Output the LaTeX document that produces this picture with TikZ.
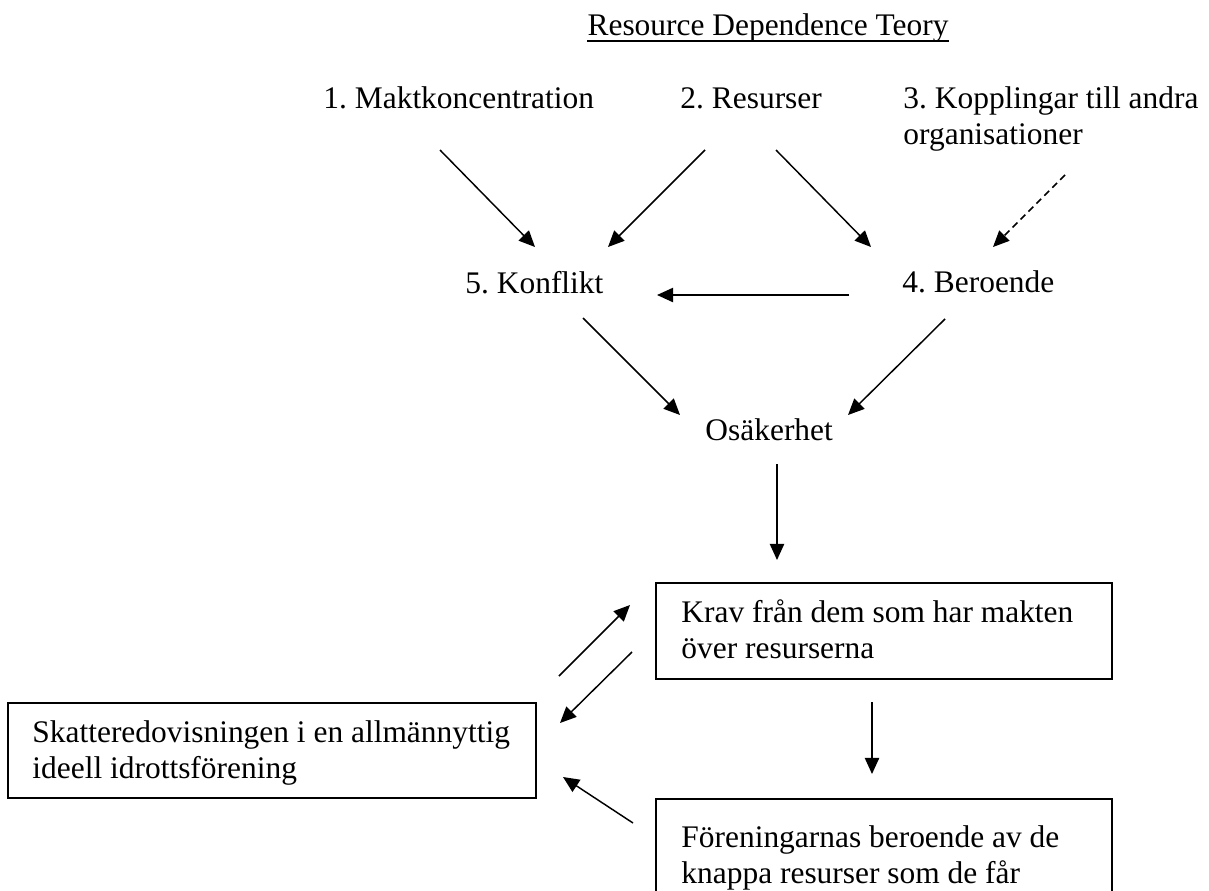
\documentclass[tikz,border=0pt]{standalone}
\usepackage{fontspec}
\setmainfont{Liberation Serif}
\usetikzlibrary{arrows.meta,fit}
\begin{document}
\begin{tikzpicture}[x=0.4454pt,y=-0.4454pt,
  lbl/.style={anchor=base west,inner sep=0pt,font=\fontsize{14pt}{16pt}\selectfont\frenchspacing},
  conn/.style={line width=0.65pt,-{Triangle[length=7.2pt,width=6.4pt]}},
  dashconn/.style={conn,dash pattern=on 3pt off 2pt},
  boxed/.style={draw,line width=0.55pt,inner sep=0pt}]
\useasboundingbox (0,0) rectangle (1209,890);
\clip (0,0) rectangle (1209,890);
% title
\node[lbl,anchor=base] (title) at (768,35) {Resource Dependence Teory};
\draw[line width=0.75pt] ([yshift=-2.6pt]title.base west) -- ([yshift=-2.6pt]title.base east);
% top row
\node[lbl] (mk) at (323,108) {1. Maktkoncentration};
\node[lbl] (res) at (680,108) {2. Resurser};
\node[lbl] (kop) at (903,108) {3. Kopplingar till andra};
\node[lbl] (kopb) at (903,144) {organisationer};
% middle row
\node[lbl] (kon) at (465,293) {5. Konflikt};
\node[lbl] (ber) at (902,292) {4. Beroende};
\node[lbl] (osa) at (705,440) {Osäkerhet};
% arrow end points
\coordinate (a1s) at (440,150); \coordinate (a1e) at (535,247);
\coordinate (a2s) at (705,150); \coordinate (a2e) at (608,247);
\coordinate (a3s) at (776,150); \coordinate (a3e) at (871,247);
\coordinate (a4s) at (1065,175); \coordinate (a4e) at (993,247);
\coordinate (a5s) at (849,295); \coordinate (a5e) at (657,295);
\coordinate (a6s) at (583,318); \coordinate (a6e) at (680,415);
\coordinate (a7s) at (945,319); \coordinate (a7e) at (848,415);
\coordinate (a8s) at (777,464); \coordinate (a8e) at (777,560);
\draw[conn] (a1s) -- (a1e);
\draw[conn] (a2s) -- (a2e);
\draw[conn] (a3s) -- (a3e);
\draw[dashconn] (a4s) -- (a4e);
\draw[conn] (a5s) -- (a5e);
\draw[conn] (a6s) -- (a6e);
\draw[conn] (a7s) -- (a7e);
\draw[conn] (a8s) -- (a8e);
% Krav box
\coordinate (k1) at (656,583); \coordinate (k2) at (1112,679);
\node[boxed,fit=(k1)(k2)] (krav) {};
\node[lbl] (kravA) at (681,622) {Krav från dem som har makten};
\node[lbl] (kravB) at (681,658) {över resurserna};
% Skatte box
\coordinate (s1) at (8,703); \coordinate (s2) at (536,798);
\node[boxed,fit=(s1)(s2)] (skat) {};
\node[lbl] (skatA) at (32,742) {Skatteredovisningen i en allmännyttig};
\node[lbl] (skatB) at (32,778) {ideell idrottsförening};
% Foreningar box (cut at bottom)
\coordinate (f1) at (656,799); \coordinate (f2) at (1112,940);
\node[boxed,fit=(f1)(f2)] (foren) {};
\node[lbl] (forA) at (681,847) {Föreningarnas beroende av de};
\node[lbl] (forB) at (681,883) {knappa resurser som de får};
% lower arrows
\coordinate (b1s) at (559,676); \coordinate (b1e) at (630,605);
\coordinate (b2s) at (632,652); \coordinate (b2e) at (560,723);
\coordinate (b3s) at (872,702); \coordinate (b3e) at (872,774);
\coordinate (b4s) at (633,823); \coordinate (b4e) at (563,777);
\draw[conn] (b1s) -- (b1e);
\draw[conn] (b2s) -- (b2e);
\draw[conn] (b3s) -- (b3e);
\draw[conn] (b4s) -- (b4e);
\end{tikzpicture}
\end{document}
